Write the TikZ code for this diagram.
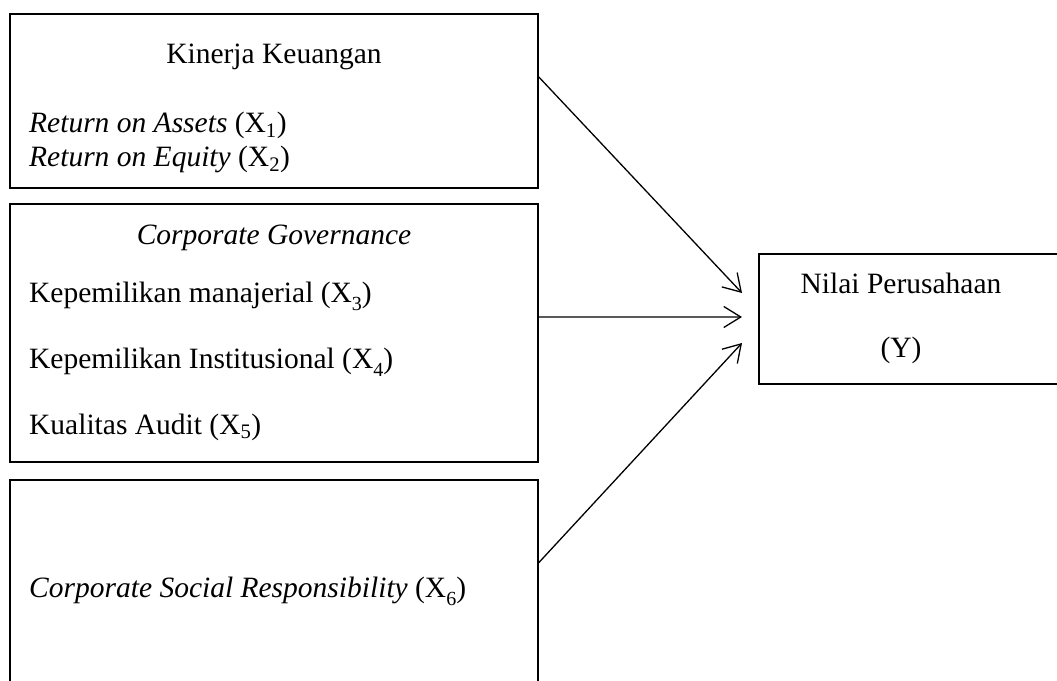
\documentclass[tikz,border=0pt]{standalone}
\usepackage{fontspec}
\setmainfont{Liberation Serif}
\usetikzlibrary{arrows.meta,calc,positioning}
\newcommand{\lowsub}[1]{\raisebox{-8pt}{\fontsize{20}{20}\selectfont #1}}

\begin{document}
\begin{tikzpicture}[x=1pt,y=-1pt,>={Straight Barb[length=17pt,width=21pt]},
    box/.style={draw,line width=1.3pt,inner sep=0pt},
    txt/.style={inner sep=0pt,font=\fontsize{29.5}{34}\selectfont}]
  \useasboundingbox (0,0) rectangle (1057,680);
  % boxes
  \node[box,minimum width=528pt,minimum height=174pt] (kk) at (274,101) {};
  \node[box,minimum width=528pt,minimum height=258pt] (cg) at (274,333) {};
  \node[box,minimum width=528pt,minimum height=220pt] (csr) at (274,590) {};
  \node[box,minimum width=316pt,minimum height=130pt] (nv) at (917,319) {};
  % texts
  \node[txt,anchor=base] (kkt) at (274,63) {Kinerja Keuangan};
  \node[txt,anchor=base west] (roa) at (29,132) {\textit{Return on Assets} (X\textsubscript{1})};
  \node[txt,anchor=base west] (roe) at (29,166) {\textit{Return on Equity} (X\textsubscript{2})};
  \node[txt,anchor=base] (cgt) at (274,244) {\textit{Corporate Governance}};
  \node[txt,anchor=base west] (km) at (29,302) {Kepemilikan manajerial (X\lowsub{3})};
  \node[txt,anchor=base west] (ki) at (29,368) {Kepemilikan Institusional (X\lowsub{4})};
  \node[txt,anchor=base west] (ka) at (29,434) {Kualitas Audit (X\textsubscript{5})};
  \node[txt,anchor=base west] (csrt) at (29,597) {\textit{Corporate Social Responsibility} (X\lowsub{6})};
  \node[txt,anchor=base] (nvt) at (901,293) {Nilai Perusahaan};
  \node[txt,anchor=base] (yt) at (901,357) {(Y)};
  % arrows
  \coordinate (in1) at (742,293);
  \coordinate (in2) at (742,317);
  \coordinate (in3) at (742,343);
  \draw[->,line width=1.3pt] ($(kk.north east)!0.362!(kk.south east)$) -- (in1);
  \draw[->,line width=1.3pt] ($(cg.north east)!0.438!(cg.south east)$) -- (in2);
  \draw[->,line width=1.3pt] ($(csr.north east)!0.377!(csr.south east)$) -- (in3);
\end{tikzpicture}
\end{document}
